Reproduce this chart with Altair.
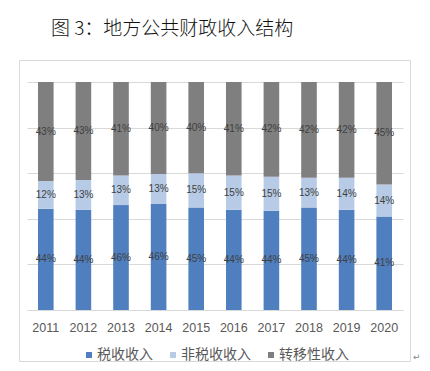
import altair as alt
import pandas as pd

years = ["2011", "2012", "2013", "2014", "2015", "2016", "2017", "2018", "2019", "2020"]
tax = [44, 44, 46, 46, 45, 44, 44, 45, 44, 41]
nontax = [12, 13, 13, 13, 15, 15, 15, 13, 14, 14]
transfer = [43, 43, 41, 40, 40, 41, 42, 42, 42, 45]
series = ["税收收入", "非税收收入", "转移性收入"]
colors = ["#4F7FBE", "#B7CBE6", "#7F7F7F"]
title_text = "图 3：地方公共财政收入结构"
grid_vals = [0, 0.1, 0.2, 0.3, 0.4, 0.5, 0.6, 0.7, 0.8, 0.9, 1.0]

rows = []
for i, yr in enumerate(years):
    for k, (name, vals) in enumerate(zip(series, [tax, nontax, transfer])):
        rows.append({"year": yr, "series": name, "order": k,
                     "value": vals[i], "label": f"{vals[i]}%"})
df = pd.DataFrame(rows)

base = alt.Chart(df).transform_stack(
    stack="value", groupby=["year"],
    sort=[alt.SortField("order", order="ascending")],
    as_=["y0", "y1"], offset="normalize"
).transform_calculate(mid="(datum.y0 + datum.y1) / 2")

xenc = alt.X("year:N", sort=years,
             scale=alt.Scale(paddingInner=0.585, paddingOuter=0.2925),
             axis=alt.Axis(title=None, labelAngle=0, ticks=False, labelPadding=11,
                           labelFont="Liberation Sans", labelFontSize=12.5,
                           labelColor="#595959", domainColor="#D9D9D9"))

bars = base.mark_bar().encode(
    x=xenc,
    y=alt.Y("y0:Q", scale=alt.Scale(domain=[0, 1], nice=False),
            axis=alt.Axis(title=None, labels=False, ticks=False, domain=False,
                          values=grid_vals, gridColor="#D9D9D9")),
    y2="y1:Q",
    color=alt.Color("series:N", scale=alt.Scale(domain=series, range=colors),
                    legend=alt.Legend(title=None, orient="none", legendX=55, legendY=266,
                                      direction="horizontal", symbolType="square",
                                      symbolSize=36, symbolStrokeWidth=0,
                                      labelFont="Noto Sans CJK SC", labelFontSize=14,
                                      labelColor="#595959", labelOffset=1,
                                      columnPadding=13)),
    order=alt.Order("order:Q"),
)

labels = base.mark_text(font="Liberation Sans", fontSize=10, color="#404040",
                        baseline="middle").encode(
    x=alt.X("year:N", sort=years),
    y=alt.Y("mid:Q"),
    text="label:N",
)

frame = alt.Chart(alt.Data(values=[{"a": 1}])).mark_rect(
    fillOpacity=0, stroke="#D9D9D9", strokeWidth=1
).encode(x=alt.value(-7.5), x2=alt.value(383.5), y=alt.value(-21.5), y2=alt.value(279.5))

title = alt.Chart(alt.Data(values=[{"t": title_text}])).mark_text(
    font="Noto Sans CJK SC", fontSize=19, fontWeight=300, color="#111111",
    align="left", baseline="middle"
).encode(x=alt.value(24), y=alt.value(-53), text="t:N")

para = alt.Chart(alt.Data(values=[{"t": "↵"}])).mark_text(
    font="DejaVu Sans", fontSize=9, color="#888888", align="left", baseline="middle"
).encode(x=alt.value(386), y=alt.value(275), text="t:N")

chart = alt.layer(frame, bars, labels, title, para).properties(
    width=376, height=228,
    autosize=alt.AutoSizeParams(type="none"),
    padding={"left": 19, "top": 74, "right": 19, "bottom": 53},
    background="white",
).configure_view(strokeWidth=0)

chart.save("out.html", embed_options={"renderer": "svg", "actions": False})
